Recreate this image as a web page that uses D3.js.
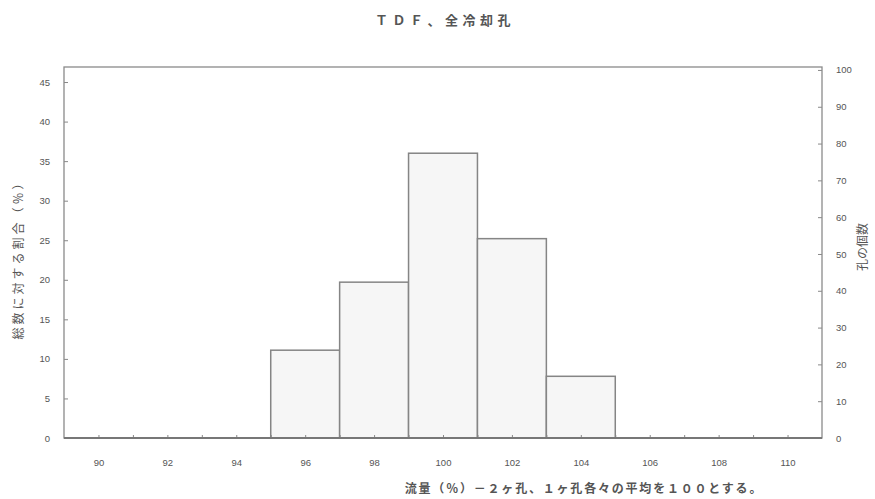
<!doctype html>
<html>
    <head>
        <meta charset="utf-8">
        <title>TDF 全冷却孔</title>
        <script src="https://cdn.jsdelivr.net/npm/d3@7/dist/d3.min.js"></script>
        <style>
            html, body {
                margin: 0px;
                padding: 0px;
                background: #fff;
            }
            .tick text {
                font-family: "Liberation Sans", sans-serif;
                font-size: 9.5px;
                fill: #555;
            }
            .jp {
                font-family: "Noto Sans CJK JP", sans-serif;
                fill: #555;
            }
        </style>
    </head>
    <body>
        <svg width="875" height="499"></svg>
    </body>
    <script>
        // histogram bins (flow %) and share of holes (%)
        var binStart = [95, 97, 99, 101, 103];
        var binEnd = [97, 99, 101, 103, 105];
        var percent = [11.1, 19.7, 36.0, 25.2, 7.8];

        var xTickLabels = [90, 92, 94, 96, 98, 100, 102, 104, 106, 108, 110];
        var leftTicks = [0, 5, 10, 15, 20, 25, 30, 35, 40, 45];
        var rightTicks = [0, 10, 20, 30, 40, 50, 60, 70, 80, 90, 100];

        var margin = {left: 64, right: 53, top: 67, bottom: 61};
        var width = 875 - margin.left - margin.right;
        var height = 499 - margin.top - margin.bottom;

        var svg = d3.select('svg');
        var g = svg.append('g')
            .attr('transform', 'translate(' + margin.left + ',' + margin.top + ')');

        var x = d3.scaleLinear().domain([89, 111]).range([0, width]);
        var yL = d3.scaleLinear().domain([0, 46.9]).range([height, 0]);
        var yR = d3.scaleLinear().domain([0, 100.8]).range([height, 0]);

        // bars
        g.selectAll('rect.bar')
            .data(percent)
            .enter()
            .append('rect')
            .attr('class', 'bar')
            .attr('x', function(d, i) { return x(binStart[i]); })
            .attr('width', function(d, i) { return x(binEnd[i]) - x(binStart[i]); })
            .attr('y', function(d) { return yL(d); })
            .attr('height', function(d) { return height - yL(d); })
            .attr('fill', '#f6f6f6')
            .attr('stroke', '#858585')
            .attr('stroke-width', 1.5);

        // x ticks every unit (inside), labels every 2
        var xMinor = g.append('g')
            .attr('transform', 'translate(0,' + height + ')')
            .call(d3.axisBottom(x).tickValues(d3.range(90, 111)).tickSize(-3).tickFormat(''));
        var xLab = g.append('g')
            .attr('transform', 'translate(0,' + height + ')')
            .call(d3.axisBottom(x).tickValues(xTickLabels).tickSize(0).tickPadding(21));

        var yLeft = g.append('g')
            .call(d3.axisLeft(yL).tickValues(leftTicks).tickSize(-4).tickPadding(14));
        var yRight = g.append('g')
            .attr('transform', 'translate(' + width + ',0)')
            .call(d3.axisRight(yR).tickValues(rightTicks).tickSize(-4).tickPadding(14));

        [xMinor, xLab, yLeft, yRight].forEach(function(a) {
            a.select('.domain').remove();
            a.selectAll('.tick line').attr('stroke', '#888');
        });

        // frame
        g.append('rect')
            .attr('width', width)
            .attr('height', height)
            .attr('fill', 'none')
            .attr('stroke', '#8a8a8a')
            .attr('stroke-width', 1.3);
        g.append('line')
            .attr('x1', 0).attr('x2', width)
            .attr('y1', height).attr('y2', height)
            .attr('stroke', '#777')
            .attr('stroke-width', 1.8);

        // texts
        svg.append('text')
            .attr('class', 'jp')
            .attr('x', 445).attr('y', 25)
            .attr('text-anchor', 'middle')
            .style('font-size', '13px')
            .style('letter-spacing', '4.5px')
            .style('font-weight', 'bold')
            .text('ＴＤＦ、全冷却孔');

        svg.append('text')
            .attr('class', 'jp')
            .attr('transform', 'translate(23,257) rotate(-90)')
            .attr('text-anchor', 'middle')
            .style('font-size', '12px')
            .style('letter-spacing', '3px')
            .text('総数に対する割合（％）');

        svg.append('text')
            .attr('class', 'jp')
            .attr('transform', 'translate(867,247) rotate(-90)')
            .attr('text-anchor', 'middle')
            .style('font-size', '12px')
            .text('孔の個数');

        svg.append('text')
            .attr('class', 'jp')
            .attr('x', 584).attr('y', 493)
            .attr('text-anchor', 'middle')
            .style('font-size', '12px')
            .style('letter-spacing', '1.8px')
            .style('font-weight', 'bold')
            .text('流量（％）－２ヶ孔、１ヶ孔各々の平均を１００とする。');
    </script>
</html>
